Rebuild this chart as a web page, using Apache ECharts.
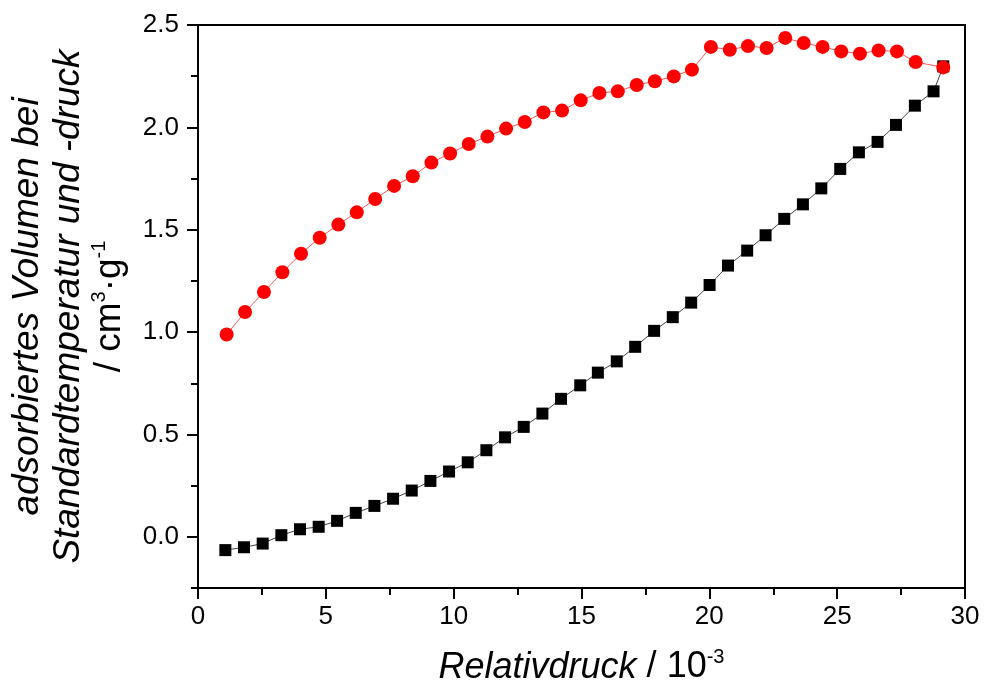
<!DOCTYPE html>
<html>
<head>
<meta charset="utf-8">
<script src="https://cdn.jsdelivr.net/npm/echarts@6/dist/echarts.min.js"></script>
<style>
html,body{margin:0;padding:0;background:#fff;}
#chart{width:985px;height:681px;}
</style>
</head>
<body>
<div id="chart"></div>
<script>
// Adsorption branch (black squares)
var adsX = [1.07,1.80,2.53,3.26,3.99,4.72,5.44,6.17,6.90,7.63,8.36,9.09,9.82,10.55,11.28,12.01,12.74,13.47,14.20,14.95,15.64,16.38,17.10,17.84,18.57,19.29,20.01,20.73,21.48,22.20,22.93,23.66,24.38,25.12,25.85,26.58,27.30,28.04,28.77,29.15];
var adsY = [-0.065,-0.051,-0.033,0.008,0.037,0.049,0.078,0.117,0.151,0.186,0.226,0.273,0.319,0.364,0.423,0.486,0.537,0.602,0.674,0.740,0.802,0.857,0.928,1.006,1.073,1.144,1.230,1.325,1.398,1.473,1.553,1.624,1.702,1.797,1.878,1.929,2.012,2.106,2.176,2.298];
// Desorption branch (red circles)
var desX = [1.12,1.84,2.58,3.30,4.03,4.76,5.49,6.21,6.93,7.67,8.40,9.13,9.86,10.59,11.32,12.05,12.78,13.51,14.24,14.97,15.70,16.42,17.16,17.87,18.61,19.32,20.06,20.80,21.51,22.24,22.97,23.69,24.43,25.16,25.89,26.62,27.34,28.07,29.15];
var desY = [0.988,1.098,1.196,1.292,1.383,1.461,1.525,1.585,1.650,1.714,1.761,1.828,1.872,1.919,1.955,1.994,2.026,2.073,2.082,2.132,2.168,2.176,2.207,2.225,2.249,2.282,2.393,2.379,2.397,2.388,2.437,2.412,2.393,2.371,2.360,2.376,2.371,2.319,2.293];

var xTickValues = [0,5,10,15,20,25,30];
var xTickLabels = ['0','5','10','15','20','25','30'];
var yTickValues = [0,0.5,1.0,1.5,2.0,2.5];
var yTickLabels = ['0.0','0.5','1.0','1.5','2.0','2.5'];
var yMinorTickValues = [-0.25,0.25,0.75,1.25,1.75,2.25];

function zip(a,b){var r=[];for(var i=0;i<a.length;i++){r.push([a[i],b[i]]);}return r;}

var FONT = "'Liberation Sans', Arial, sans-serif";
var chart = echarts.init(document.getElementById('chart'), null, {renderer:'canvas'});
chart.setOption({
  animation:false,
  backgroundColor:'#ffffff',
  grid:{left:198,right:20,top:25,bottom:93,show:true,borderColor:'#000',borderWidth:2,backgroundColor:'transparent',containLabel:false,outerBoundsMode:'none'},
  xAxis:{
    type:'value',min:0,max:30,interval:5,
    axisLine:{show:true,onZero:false,lineStyle:{color:'#000',width:2}},
    axisTick:{show:true,inside:false,length:11,lineStyle:{color:'#000',width:2}},
    minorTick:{show:true,splitNumber:2,length:7,lineStyle:{color:'#000',width:2}},
    splitLine:{show:false},
    axisLabel:{color:'#000',fontSize:26,fontFamily:FONT,margin:16,
      formatter:function(v){var i=xTickValues.indexOf(v);return i>=0?xTickLabels[i]:'';}},
    name:'{i|Relativdruck}{n| / 10}{s|-3}',
    nameLocation:'middle',nameGap:59,
    nameTextStyle:{rich:{
      i:{fontFamily:FONT,fontStyle:'italic',fontSize:36,color:'#000',lineHeight:41},
      n:{fontFamily:FONT,fontSize:36,color:'#000',lineHeight:41},
      s:{fontFamily:FONT,fontSize:20,color:'#000',lineHeight:20,verticalAlign:'top'}
    }}
  },
  yAxis:[{
    type:'value',min:-0.25,max:2.5,position:'left',
    axisLine:{show:true,onZero:false,lineStyle:{color:'#000',width:2}},
    axisTick:{show:true,inside:false,length:11,customValues:yTickValues,lineStyle:{color:'#000',width:2}},
    splitLine:{show:false},
    axisLabel:{color:'#000',fontSize:26,fontFamily:FONT,margin:19,customValues:yTickValues,
      formatter:function(v){for(var i=0;i<yTickValues.length;i++){if(Math.abs(yTickValues[i]-v)<1e-6)return yTickLabels[i];}return '';}},
    name:'{i|adsorbiertes Volumen bei}\n{i|Standardtemperatur und -druck}\n{n|/ cm}{s|3}{n|\u00b7g}{s|-1}',
    nameLocation:'middle',nameRotate:90,nameGap:68,
    nameTextStyle:{rich:{
      i:{fontFamily:FONT,fontStyle:'italic',fontSize:37,color:'#000',lineHeight:41},
      n:{fontFamily:FONT,fontSize:37,color:'#000',lineHeight:41},
      s:{fontFamily:FONT,fontSize:20,color:'#000',lineHeight:20,verticalAlign:'top'}
    }}
  },{
    type:'value',min:-0.25,max:2.5,position:'left',
    axisLine:{show:false},
    axisTick:{show:true,inside:false,length:7,customValues:yMinorTickValues,lineStyle:{color:'#000',width:2}},
    axisLabel:{show:false},
    splitLine:{show:false}
  }],
  series:[{
    name:'Adsorption',type:'line',data:zip(adsX,adsY),
    symbol:'rect',symbolSize:12,
    itemStyle:{color:'#000'},
    lineStyle:{color:'#444',width:1},
    z:2
  },{
    name:'Desorption',type:'line',data:zip(desX,desY),
    symbol:'circle',symbolSize:14,
    itemStyle:{color:'#ff0000'},
    lineStyle:{color:'#ff5555',width:1},
    z:3
  }]
});
</script>
</body>
</html>
